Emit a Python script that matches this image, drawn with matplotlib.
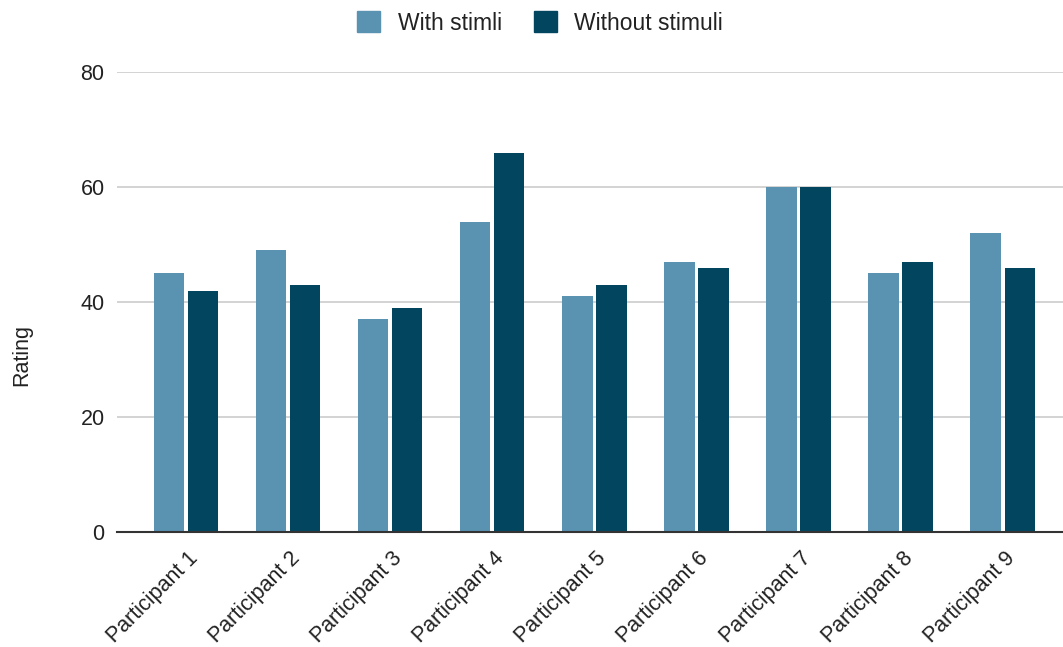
import matplotlib.pyplot as plt
import numpy as np
from matplotlib.patches import Patch
from matplotlib.transforms import ScaledTranslation

plt.rcParams['font.family'] = ['Liberation Sans', 'DejaVu Sans']

participants = ['Participant %d' % i for i in range(1, 10)]
with_stimli = [45, 49, 37, 54, 41, 47, 60, 45, 52]
without_stimuli = [42, 43, 39, 66, 43, 46, 60, 47, 46]
series_names = ['With stimli', 'Without stimuli']
y_ticks = [0, 20, 40, 60, 80]

light = '#5a93b1'
dark = '#02455f'

fig = plt.figure(figsize=(10.63, 6.47), dpi=100)
ax = fig.add_axes([117 / 1063, 1 - 532 / 647, 1 - 117 / 1063, (532 - 72) / 647])

x = np.arange(len(participants))
w = 0.298
ax.bar(x - 0.167, with_stimli, w, color=light, zorder=3)
ax.bar(x + 0.167, without_stimuli, w, color=dark, zorder=3)

ax.set_xlim(-0.675, 8.59)
ax.set_ylim(0, 80)
ax.set_yticks(y_ticks)
ax.yaxis.grid(True, color='#cccccc', linewidth=1.2, zorder=0)
for s in ['top', 'right', 'left']:
    ax.spines[s].set_visible(False)
ax.spines['bottom'].set_color('#333333')
ax.spines['bottom'].set_linewidth(1.5)
ax.spines['bottom'].set_zorder(4)
ax.tick_params(axis='y', length=0, pad=9, labelsize=15.5, labelcolor='#222222')
ax.tick_params(axis='x', length=0, pad=6, labelsize=15.5, labelcolor='#222222')
ax.set_xticks(x)
ax.set_xticklabels(participants, rotation=45, ha='right', va='center',
                   rotation_mode='anchor')
shift = ScaledTranslation(9 / 100, -15 / 100, fig.dpi_scale_trans)
for lbl in ax.get_xticklabels():
    lbl.set_transform(lbl.get_transform() + shift)

fig.text(22 / 1063, 1 - 355 / 647, 'Rating', rotation=90, ha='center', va='center',
         fontsize=15.5, color='#222222')

handles = [Patch(color=light), Patch(color=dark)]
fig.legend(handles, series_names, loc='center', bbox_to_anchor=(540 / 1063, 1 - 23 / 647),
           ncol=2, frameon=False, fontsize=16.5, handlelength=1.0, handleheight=1.0,
           handletextpad=0.75, columnspacing=1.4, labelcolor='#222222')

fig.savefig('out.png', dpi=100)
